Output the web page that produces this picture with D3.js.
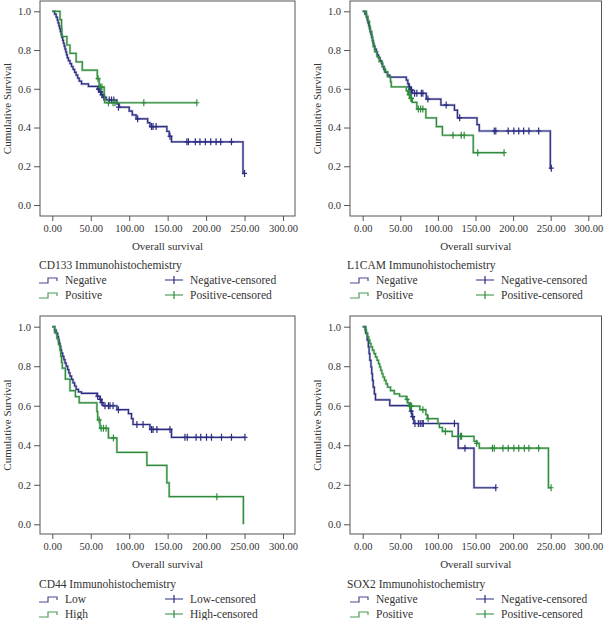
<!DOCTYPE html>
<html><head><meta charset="utf-8">
<script src="https://cdn.jsdelivr.net/npm/d3@7"></script>
<style>
html,body{margin:0;padding:0;background:#fff;}
svg{display:block;}
text{font-family:"Liberation Serif","DejaVu Serif",serif;fill:#333;}
</style></head>
<body>
<svg id="chart" width="604" height="620"></svg>
<script>
// ---------- data (time, cumulative survival) ----------
const xTicks = [0, 50, 100, 150, 200, 250, 300];
const yTicks = [0, 0.2, 0.4, 0.6, 0.8, 1.0];
const panelTitles = ["CD133 Immunohistochemistry", "L1CAM Immunohistochemistry", "CD44 Immunohistochemistry", "SOX2 Immunohistochemistry"];
const groupNames = [["Negative", "Positive"], ["Negative", "Positive"], ["Low", "High"], ["Negative", "Positive"]];

const cd133Negative = [[0,1],[3,0.985],[5,0.97],[6.5,0.955],[7.5,0.94],[8.5,0.925],[9.5,0.91],[10.5,0.895],[11.5,0.88],[12.5,0.865],[13.5,0.85],[14.5,0.835],[15.5,0.82],[16.5,0.805],[17.5,0.79],[18.5,0.775],[19.5,0.76],[21,0.745],[23,0.73],[25,0.715],[27,0.7],[29,0.685],[31,0.67],[33,0.655],[35,0.64],[38,0.625],[47,0.612],[59,0.598],[62,0.584],[64,0.57],[66,0.556],[70,0.542],[84,0.522],[87,0.505],[100,0.485],[104,0.465],[109,0.445],[124,0.425],[127,0.405],[149,0.38],[152,0.355],[155,0.326],[248,0.163]];
const cd133NegativeCensored = [[60,0.598],[61,0.598],[63,0.584],[64.5,0.57],[67,0.556],[74,0.542],[77,0.542],[80,0.542],[86,0.505],[111,0.445],[129,0.405],[131,0.405],[135,0.405],[153,0.355],[175,0.326],[177,0.326],[186,0.326],[192,0.326],[199,0.326],[206,0.326],[213,0.326],[219,0.326],[233,0.326],[250,0.163]];
const cd133Positive = [[0,1],[10,0.957],[12,0.913],[12.5,0.87],[19,0.826],[23,0.783],[31,0.739],[39,0.696],[58.5,0.652],[61,0.609],[67.5,0.568],[68,0.528]];
const cd133PositiveCensored = [[59.5,0.652],[62.5,0.609],[64.5,0.609],[73,0.528],[79,0.528],[81.5,0.528],[119,0.528],[188,0.528]];

const l1camNegative = [[0,1],[3,0.985],[5,0.97],[6,0.955],[7,0.94],[8,0.925],[9,0.91],[10,0.895],[11,0.88],[12,0.865],[13,0.85],[14,0.835],[15,0.82],[16,0.805],[18,0.79],[19.5,0.775],[21,0.76],[23,0.745],[25,0.73],[26.5,0.715],[28,0.7],[30,0.685],[33,0.67],[36,0.66],[58,0.645],[60,0.625],[61.5,0.61],[63,0.593],[66,0.577],[84.5,0.547],[104,0.516],[122,0.49],[126,0.45],[152,0.415],[155,0.382],[249.5,0.19]];
const l1camNegativeCensored = [[62,0.61],[64,0.593],[65,0.593],[69,0.577],[72,0.577],[78,0.577],[80,0.577],[86.7,0.547],[111,0.516],[129,0.45],[175,0.382],[177,0.382],[193.5,0.382],[201,0.382],[207.5,0.382],[214,0.382],[221,0.382],[234,0.382],[250.8,0.19]];
const l1camPositive = [[0,1],[5,0.974],[7,0.948],[9,0.922],[10,0.896],[12,0.87],[13,0.844],[14,0.818],[16,0.792],[19,0.766],[22,0.74],[26,0.714],[29,0.688],[33,0.662],[37,0.636],[38,0.61],[58,0.59],[60,0.57],[63,0.55],[66,0.53],[72,0.495],[84,0.45],[98,0.405],[106,0.36],[147,0.27]];
const l1camPositiveCensored = [[61,0.59],[62,0.57],[64,0.55],[65,0.55],[74,0.495],[77,0.495],[80,0.495],[120,0.36],[131,0.36],[135,0.36],[153,0.27],[188,0.27]];

const cd44Low = [[0,1],[3,0.983],[5,0.966],[7,0.95],[8,0.933],[9,0.916],[10,0.9],[11,0.883],[12,0.866],[13.5,0.85],[15,0.833],[16.5,0.816],[18,0.8],[20,0.783],[21.5,0.766],[23,0.75],[25,0.733],[27,0.716],[29,0.7],[31,0.683],[34,0.67],[38,0.663],[58,0.648],[62,0.632],[64,0.616],[66,0.6],[84,0.58],[99,0.56],[103,0.535],[105,0.505],[127,0.48],[155,0.44]];
const cd44LowCensored = [[59,0.648],[62.5,0.632],[64.5,0.616],[68.5,0.6],[73,0.6],[75,0.6],[79,0.6],[86,0.58],[110,0.505],[118,0.505],[129,0.48],[131,0.48],[136,0.48],[153,0.48],[172.5,0.44],[175.5,0.44],[187,0.44],[193,0.44],[200.5,0.44],[207,0.44],[220,0.44],[233,0.44],[250.5,0.44]];
const cd44High = [[0,1],[3,0.97],[6,0.94],[8,0.91],[10,0.88],[11,0.85],[12,0.82],[13,0.79],[17,0.735],[23,0.676],[30,0.646],[35,0.615],[58,0.57],[59,0.528],[62,0.486],[73,0.437],[84,0.364],[123,0.298],[149,0.21],[152,0.14],[248.5,0]];
const cd44HighCensored = [[61,0.528],[63.5,0.486],[66.5,0.486],[70,0.486],[79.5,0.437],[214,0.14]];

const sox2Negative = [[0,1],[4,0.966],[6,0.932],[7.5,0.898],[8.5,0.864],[9.5,0.83],[11,0.796],[12,0.762],[13,0.728],[14,0.694],[15.5,0.66],[17,0.63],[36,0.601],[63.5,0.573],[65.5,0.545],[68,0.51],[127,0.385],[148,0.185]];
const sox2NegativeCensored = [[63,0.601],[64.5,0.573],[66.5,0.545],[69.5,0.51],[74,0.51],[76.5,0.51],[79,0.51],[80.5,0.51],[122,0.51],[136,0.385],[177,0.185]];
const sox2Positive = [[0,1],[3,0.983],[5,0.966],[6.5,0.949],[8,0.932],[9.5,0.915],[11,0.898],[13,0.881],[15,0.864],[17,0.847],[19,0.83],[21,0.813],[22.5,0.796],[24,0.779],[25.5,0.762],[27,0.745],[29,0.728],[31,0.711],[33,0.694],[37,0.677],[42,0.66],[49,0.648],[58,0.632],[60,0.615],[61.5,0.598],[76,0.58],[84,0.555],[86,0.535],[100,0.51],[102,0.49],[106,0.47],[119,0.445],[148,0.42],[152,0.41],[155,0.385],[247,0.185]];
const sox2PositiveCensored = [[59,0.632],[62.5,0.598],[64,0.598],[65,0.598],[80,0.58],[87,0.535],[110,0.47],[130,0.445],[131.5,0.445],[151.5,0.41],[172.5,0.385],[175,0.385],[186.5,0.385],[193.5,0.385],[201,0.385],[207.5,0.385],[215,0.385],[221,0.385],[234,0.385],[250.5,0.185]];

// ---------- layout ----------
const NAVY = "#2c2c82", GREEN = "#2f8c3c";
const panels = [
  {steps:[cd133Negative, cd133Positive], cens:[cd133NegativeCensored, cd133PositiveCensored], box:[40,1,295,216], xr:[52.3,283], yr:[205,11.3], ylab:7, leg:{y:265, x:39, sym:[39,65,165,190]}},
  {steps:[l1camNegative, l1camPositive], cens:[l1camNegativeCensored, l1camPositiveCensored], box:[350,1,601.5,216], xr:[362.7,588.3], yr:[205,11.3], ylab:317, leg:{y:265, x:347, sym:[350,376,476,501]}},
  {steps:[cd44Low, cd44High], cens:[cd44LowCensored, cd44HighCensored], box:[40,316,295,534], xr:[52.3,283], yr:[524.3,326.7], ylab:7, leg:{y:584, x:39, sym:[39,65,165,190]}},
  {steps:[sox2Negative, sox2Positive], cens:[sox2NegativeCensored, sox2PositiveCensored], box:[350,316,601.5,534], xr:[362.7,588.3], yr:[524.3,326.7], ylab:317, leg:{y:584, x:347, sym:[350,376,476,501]}}
];

const svg = d3.select("#chart");
const colors = [NAVY, GREEN];

panels.forEach((p, i) => {
  const [bx0, by0, bx1, by1] = p.box;
  const x = d3.scaleLinear().domain([0,300]).range(p.xr);
  const y = d3.scaleLinear().domain([0,1]).range(p.yr);
  const g = svg.append("g");

  g.append("rect").attr("x", bx0).attr("y", by0).attr("width", bx1-bx0).attr("height", by1-by0)
    .attr("fill", "none").attr("stroke", "#555").attr("stroke-width", 1);

  const xa = g.append("g").attr("transform", `translate(0,${by1})`)
    .call(d3.axisBottom(x).tickValues(xTicks).tickFormat(d3.format(".2f")).tickSize(5).tickPadding(4));
  const ya = g.append("g").attr("transform", `translate(${bx0},0)`)
    .call(d3.axisLeft(y).tickValues(yTicks).tickFormat(d3.format(".1f")).tickSize(6).tickPadding(3));
  [xa, ya].forEach(a => {
    a.select(".domain").remove();
    a.selectAll("line").attr("stroke", "#555");
    a.selectAll("text").attr("font-size", 10.5).attr("fill", "#333").style("font-family", '"Liberation Serif", serif');
  });

  g.append("text").attr("transform", `translate(${p.ylab},${(by0+by1)/2}) rotate(-90)`)
    .attr("text-anchor", "middle").attr("dominant-baseline", "central").attr("font-size", 11)
    .text("Cumulative Survival");
  g.append("text").attr("x", (bx0+bx1)/2).attr("y", by1 + 30).attr("text-anchor", "middle")
    .attr("dominant-baseline", "central").attr("font-size", 11).text("Overall survival");

  const line = d3.line().x(d => x(d[0])).y(d => y(d[1])).curve(d3.curveStepAfter);
  p.steps.forEach((s, k) => {
    const c = p.cens[k];
    const pts = s.slice();
    const last = s[s.length-1];
    const endT = d3.max(c, d => d[0]) || last[0];
    if (endT > last[0]) pts.push([endT, last[1]]);
    g.append("path").attr("d", line(pts)).attr("fill", "none")
      .attr("stroke", colors[k]).attr("stroke-opacity", 0.35).attr("stroke-width", 2.4);
    g.append("path").attr("d", line(pts)).attr("fill", "none")
      .attr("stroke", colors[k]).attr("stroke-width", 1.2);
    g.selectAll(null).data(c).enter().append("path")
      .attr("d", d => `M${x(d[0])-2.5},${y(d[1])}H${x(d[0])+2.5}M${x(d[0])},${y(d[1])-3.5}V${y(d[1])+3.5}`)
      .attr("stroke", colors[k]).attr("stroke-width", 1.2).attr("fill", "none");
  });

  // legend
  const L = p.leg;
  g.append("text").attr("x", L.x).attr("y", L.y).attr("dominant-baseline", "central")
    .attr("font-size", 11.5).text(panelTitles[i]);
  groupNames[i].forEach((name, k) => {
    const ry = L.y + 15 + k*15;
    const [sx, tx, cx, ctx] = L.sym;
    g.append("path").attr("d", `M${sx},${ry+3}H${sx+9}V${ry-2}H${sx+18}V${ry+1}`)
      .attr("fill", "none").attr("stroke", colors[k]).attr("stroke-width", 1.2).attr("stroke-opacity", 0.85);
    g.append("text").attr("x", tx).attr("y", ry).attr("dominant-baseline", "central").attr("font-size", 11.5).text(name);
    g.append("path").attr("d", `M${cx},${ry}H${cx+18}M${cx+9},${ry-4}V${ry+4}`)
      .attr("fill", "none").attr("stroke", colors[k]).attr("stroke-width", 1.2);
    g.append("text").attr("x", ctx).attr("y", ry).attr("dominant-baseline", "central").attr("font-size", 11.5).text(name + "-censored");
  });
});
</script>
</body></html>
